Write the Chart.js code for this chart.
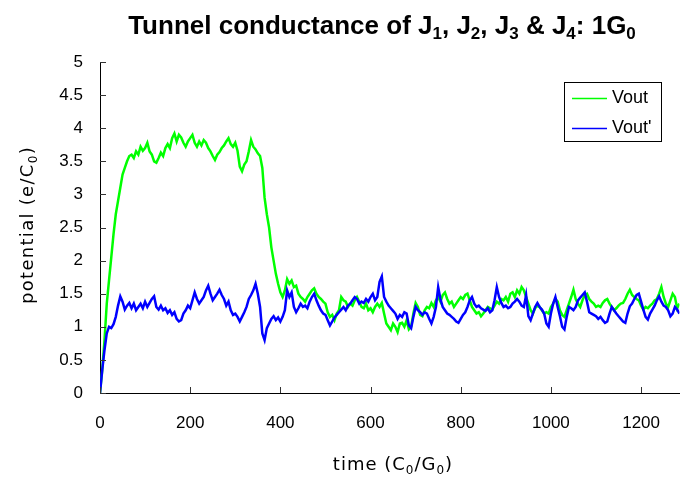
<!DOCTYPE html>
<html>
<head>
<meta charset="utf-8">
<script src="https://cdn.jsdelivr.net/npm/chart.js@4.4.1/dist/chart.umd.min.js"></script>
<style>
  html, body { margin: 0; padding: 0; background: #fff; }
  #wrap { width: 680px; height: 479px; }
</style>
</head>
<body>
<div id="wrap"><canvas id="tunnel" width="680" height="479"></canvas></div>
<script>
// sampled every 5 time units, 0 .. 1285
const sampleStep = 5;

const vout = [
    0, 0.35, 0.8, 1.35, 1.7, 2.05, 2.4, 2.7, 2.9, 3.1, 3.3, 3.4, 3.5, 3.58, 3.6, 3.55, 3.65, 3.6, 3.72, 3.66,
    3.7, 3.78, 3.65, 3.6, 3.5, 3.48, 3.55, 3.63, 3.58, 3.7, 3.76, 3.7, 3.85, 3.92, 3.8, 3.9, 3.86, 3.78, 3.72, 3.8,
    3.85, 3.9, 3.78, 3.72, 3.8, 3.74, 3.82, 3.78, 3.7, 3.65, 3.58, 3.52, 3.6, 3.64, 3.7, 3.74, 3.8, 3.85, 3.76, 3.72,
    3.78, 3.66, 3.42, 3.35, 3.45, 3.5, 3.65, 3.82, 3.72, 3.68, 3.62, 3.58, 3.4, 2.95, 2.7, 2.5, 2.2, 2.0, 1.8, 1.65,
    1.52, 1.45, 1.55, 1.72, 1.65, 1.7, 1.6, 1.62, 1.5, 1.45, 1.42, 1.38, 1.45, 1.5, 1.55, 1.58, 1.5, 1.45, 1.42, 1.38,
    1.35, 1.22, 1.15, 1.18, 1.1, 1.2, 1.25, 1.45, 1.4, 1.38, 1.3, 1.35, 1.32, 1.4, 1.45, 1.38, 1.3, 1.28, 1.35, 1.25,
    1.28, 1.22, 1.3, 1.35, 1.3, 1.36, 1.2, 1.05, 1.0, 0.95, 1.05, 1.0, 0.92, 1.05, 1.06, 1.0, 1.1, 0.96, 1.0, 1.2,
    1.36, 1.3, 1.18, 1.16, 1.25, 1.3, 1.28, 1.36, 1.3, 1.4, 1.45, 1.38, 1.48, 1.52, 1.42, 1.35, 1.38, 1.3, 1.35, 1.4,
    1.45, 1.42, 1.48, 1.5, 1.4, 1.3, 1.25, 1.2, 1.22, 1.16, 1.2, 1.25, 1.3, 1.28, 1.26, 1.32, 1.38, 1.35, 1.42, 1.4,
    1.45, 1.38, 1.5, 1.52, 1.45, 1.55, 1.5, 1.6, 1.55, 1.45, 1.35, 1.25, 1.2, 1.28, 1.32, 1.3, 1.25, 1.2, 1.22, 1.2,
    1.3, 1.35, 1.42, 1.38, 1.25, 1.18, 1.15, 1.25, 1.35, 1.45, 1.56, 1.42, 1.35, 1.3, 1.4, 1.48, 1.5, 1.42, 1.38, 1.35,
    1.3, 1.32, 1.3, 1.36, 1.4, 1.42, 1.35, 1.3, 1.25, 1.28, 1.32, 1.35, 1.36, 1.42, 1.5, 1.56, 1.48, 1.45, 1.42, 1.4,
    1.32, 1.26, 1.3, 1.28, 1.32, 1.35, 1.4, 1.42, 1.5, 1.6, 1.45, 1.35, 1.3, 1.4, 1.5, 1.45, 1.28, 1.35
];

const voutPrime = [
    0, 0.35, 0.65, 0.9, 1.0, 0.98, 1.04, 1.15, 1.32, 1.46, 1.38, 1.26, 1.32, 1.36, 1.28, 1.35, 1.25, 1.3, 1.35, 1.28,
    1.38, 1.3, 1.36, 1.42, 1.46, 1.3, 1.26, 1.32, 1.25, 1.28, 1.21, 1.25, 1.18, 1.22, 1.12, 1.08, 1.1, 1.2, 1.25, 1.32,
    1.28, 1.4, 1.52, 1.42, 1.35, 1.4, 1.45, 1.55, 1.62, 1.5, 1.4, 1.45, 1.5, 1.56, 1.48, 1.42, 1.32, 1.38, 1.25, 1.18,
    1.2, 1.15, 1.08, 1.15, 1.22, 1.3, 1.42, 1.48, 1.55, 1.65, 1.5, 1.3, 0.9, 0.8, 0.98, 1.05, 1.12, 1.16, 1.1, 1.14,
    1.08, 1.15, 1.25, 1.55, 1.45, 1.52, 1.3, 1.22, 1.28, 1.35, 1.3, 1.32, 1.28, 1.38, 1.45, 1.5, 1.4, 1.32, 1.25, 1.2,
    1.18, 1.1, 1.02, 1.08, 1.14, 1.18, 1.22, 1.26, 1.3, 1.25, 1.32, 1.35, 1.4, 1.45, 1.42, 1.35, 1.38, 1.36, 1.42, 1.38,
    1.45, 1.5, 1.4, 1.45, 1.68, 1.76, 1.45, 1.38, 1.32, 1.28, 1.24, 1.2, 1.12, 1.18, 1.15, 1.22, 1.2, 1.02, 0.98, 1.15,
    1.3, 1.25, 1.22, 1.18, 1.22, 1.2, 1.12, 1.05, 1.15, 1.3, 1.6, 1.42, 1.3, 1.25, 1.2, 1.18, 1.15, 1.12, 1.08, 1.06,
    1.12, 1.18, 1.22, 1.3, 1.4, 1.45, 1.35, 1.3, 1.32, 1.28, 1.26, 1.24, 1.28, 1.22, 1.25, 1.4, 1.6, 1.45, 1.36, 1.3,
    1.32, 1.28, 1.3, 1.35, 1.38, 1.42, 1.38, 1.32, 1.3, 1.48, 1.16, 1.1, 1.2, 1.3, 1.36, 1.3, 1.26, 1.2, 1.05, 1.0,
    1.2, 1.35, 1.45, 1.3, 1.16, 1.0, 0.96, 1.15, 1.3, 1.28, 1.25, 1.3, 1.4, 1.44, 1.48, 1.52, 1.38, 1.22, 1.2, 1.18,
    1.16, 1.12, 1.15, 1.1, 1.06, 1.08, 1.2, 1.3, 1.25, 1.2, 1.16, 1.12, 1.08, 1.06, 1.2, 1.31, 1.35, 1.42, 1.48, 1.5,
    1.38, 1.26, 1.15, 1.11, 1.2, 1.26, 1.32, 1.4, 1.46, 1.38, 1.32, 1.3, 1.25, 1.16, 1.2, 1.3, 1.26, 1.2
];

const time = vout.map((_, i) => i * sampleStep);

const xTicks = [0, 200, 400, 600, 800, 1000, 1200];
const yTicks = [0, 0.5, 1, 1.5, 2, 2.5, 3, 3.5, 4, 4.5, 5];

const titleParts = [['Tunnel conductance of J', 0], ['1', 1], [', J', 0], ['2', 1], [', J', 0], ['3', 1],
    [' & J', 0], ['4', 1], [': 1G', 0], ['0', 1]];
const yTitleParts = [['potential (e/C', 0], ['0', 1], [')', 0]];
const xTitleParts = [['time (C', 0], ['0', 1], ['/G', 0], ['0', 1], [')', 0]];

const legendItems = [
    { label: 'Vout', color: '#00ff00' },
    { label: "Vout'", color: '#0000ff' }
];

// text with subscripts, centred on cx
function drawRich(ctx, parts, cx, baseY, size, weight, family, spacing) {
    const fontFor = sub => `${weight} ${sub ? Math.round(size * 0.66) : size}px ${family}`;
    ctx.letterSpacing = (spacing || 0) + 'px';
    let total = 0;
    parts.forEach(([t, sub]) => {
        ctx.font = fontFor(sub);
        total += ctx.measureText(t).width;
    });
    let x = cx - total / 2;
    ctx.textAlign = 'left';
    ctx.textBaseline = 'alphabetic';
    parts.forEach(([t, sub]) => {
        ctx.font = fontFor(sub);
        ctx.fillText(t, x, baseY + (sub ? size * 0.2 : 0));
        x += ctx.measureText(t).width;
    });
    ctx.letterSpacing = '0px';
}

const decorPlugin = {
    id: 'decor',
    afterDraw(chart) {
        const ctx = chart.ctx;
        const area = chart.chartArea;
        const xs = chart.scales.x;
        const ys = chart.scales.y;
        ctx.save();
        ctx.fillStyle = '#000';

        // inward tick marks
        ctx.strokeStyle = '#333';
        ctx.lineWidth = 1;
        ctx.beginPath();
        xTicks.forEach(v => {
            const px = Math.round(xs.getPixelForValue(v)) + 0.5;
            ctx.moveTo(px, area.bottom);
            ctx.lineTo(px, area.bottom - 6);
        });
        yTicks.forEach(v => {
            const py = Math.round(ys.getPixelForValue(v)) + 0.5;
            ctx.moveTo(area.left, py);
            ctx.lineTo(area.left + 6, py);
        });
        ctx.stroke();

        drawRich(ctx, titleParts, 382, 34, 26, 'bold', '"Liberation Sans", Arial, sans-serif');
        drawRich(ctx, xTitleParts, 393, 470, 18, 'normal', '"DejaVu Sans", sans-serif', 1);

        ctx.save();
        ctx.translate(27, 225);
        ctx.rotate(-Math.PI / 2);
        drawRich(ctx, yTitleParts, 0, 6, 18, 'normal', '"DejaVu Sans", sans-serif', 1.3);
        ctx.restore();

        // legend box
        const lx = 564, ly = 82, lw = 97, lh = 59;
        ctx.fillStyle = '#fff';
        ctx.fillRect(lx, ly, lw, lh);
        ctx.strokeStyle = '#000';
        ctx.strokeRect(lx + 0.5, ly + 0.5, lw, lh);
        ctx.font = '18px "Liberation Sans", Arial, sans-serif';
        ctx.textAlign = 'left';
        ctx.textBaseline = 'middle';
        legendItems.forEach((item, i) => {
            const yy = ly + 16 + i * 30;
            ctx.strokeStyle = item.color;
            ctx.lineWidth = 1.5;
            ctx.beginPath();
            ctx.moveTo(lx + 8, yy + 0.5);
            ctx.lineTo(lx + 43, yy + 0.5);
            ctx.stroke();
            ctx.fillStyle = '#000';
            ctx.fillText(item.label, lx + 48, yy);
        });
        ctx.restore();
    }
};

const tickFont = { family: '"Liberation Sans", Arial, sans-serif', size: 17 };

new Chart(document.getElementById('tunnel'), {
    type: 'line',
    data: {
        datasets: [{
            label: 'Vout',
            data: time.map((t, i) => ({ x: t, y: vout[i] })),
            borderColor: '#00ff00',
            borderWidth: 2.5,
            pointRadius: 0,
            tension: 0,
            order: 2
        }, {
            label: "Vout'",
            data: time.map((t, i) => ({ x: t, y: voutPrime[i] })),
            borderColor: '#0000ff',
            borderWidth: 2.5,
            pointRadius: 0,
            tension: 0,
            order: 1
        }]
    },
    options: {
        responsive: false,
        animation: false,
        devicePixelRatio: 1,
        layout: { padding: { top: 62, left: 0, right: 0, bottom: 0 } },
        plugins: {
            legend: { display: false },
            title: { display: false },
            tooltip: { enabled: false }
        },
        scales: {
            x: {
                type: 'linear',
                min: 0,
                max: 1285,
                afterBuildTicks: s => { s.ticks = xTicks.map(v => ({ value: v })); },
                afterFit: s => { s.height = 86; },
                grid: { drawOnChartArea: false, drawTicks: false },
                border: { color: '#000', width: 1 },
                ticks: { color: '#000', font: tickFont, padding: 20, maxRotation: 0, callback: v => String(v) }
            },
            y: {
                min: 0,
                max: 5,
                afterBuildTicks: s => { s.ticks = yTicks.map(v => ({ value: v })); },
                afterFit: s => { s.width = 100; },
                grid: { drawOnChartArea: false, drawTicks: false },
                border: { color: '#000', width: 1 },
                ticks: { color: '#000', font: tickFont, padding: 17, callback: v => String(v) }
            }
        }
    },
    plugins: [decorPlugin]
});
</script>
</body>
</html>
